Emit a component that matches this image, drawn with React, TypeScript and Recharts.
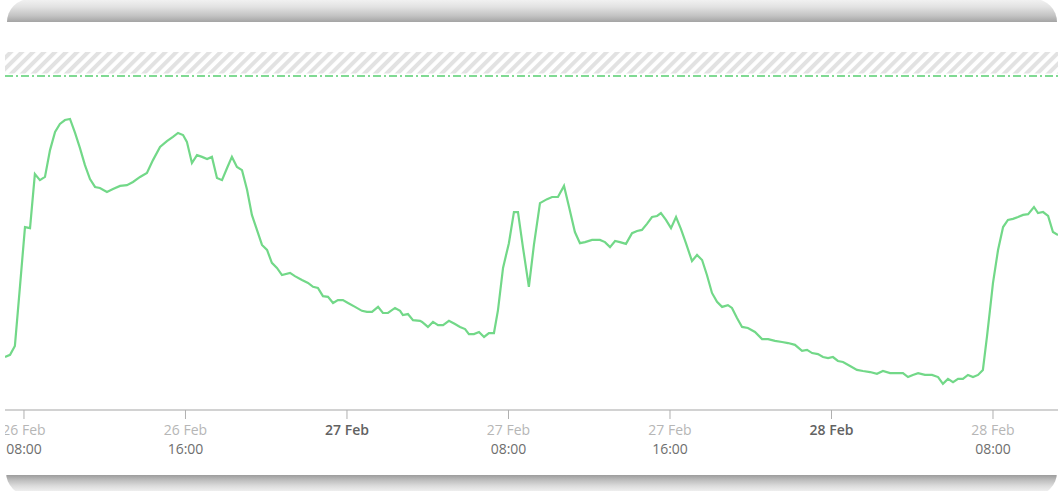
import React from 'react';
import { LineChart, Line, XAxis, YAxis, ReferenceArea, ReferenceLine } from 'recharts';

// hours since 26 Feb 00:00
const hours = [
  7.06, 7.31, 7.55, 7.80, 8.05, 8.30, 8.54, 8.79, 9.04, 9.29, 9.54, 9.78, 10.03, 10.28, 10.53, 10.77,
  11.02, 11.27, 11.52, 11.76, 12.11, 12.41, 12.76, 13.10, 13.40, 13.75, 14.09, 14.39, 14.74, 15.08,
  15.38, 15.63, 15.88, 16.07, 16.32, 16.57, 16.82, 17.07, 17.31, 17.56, 17.81, 18.06, 18.30, 18.55,
  18.80, 19.05, 19.29, 19.54, 19.79, 20.04, 20.28, 20.53, 20.78, 21.18, 21.42, 21.77, 22.07, 22.32,
  22.56, 22.81, 23.06, 23.31, 23.55, 23.80, 24.05, 24.40, 24.74, 24.99, 25.24, 25.54, 25.78, 26.03,
  26.38, 26.63, 26.77, 27.02, 27.27, 27.62, 27.72, 28.01, 28.26, 28.51, 28.76, 29.05, 29.35, 29.60,
  29.85, 30.04, 30.29, 30.54, 30.79, 31.03, 31.28, 31.48, 31.73, 32.02, 32.27, 32.47, 32.72, 33.01,
  33.26, 33.56, 33.91, 34.16, 34.45, 34.75, 35.00, 35.29, 35.54, 35.79, 36.14, 36.53, 36.78, 37.03,
  37.28, 37.52, 37.82, 38.12, 38.37, 38.61, 38.86, 39.11, 39.36, 39.55, 39.80, 40.05, 40.30, 40.54,
  40.79, 41.09, 41.34, 41.59, 41.83, 42.08, 42.33, 42.58, 42.87, 43.07, 43.32, 43.57, 43.86, 44.21,
  44.56, 44.86, 45.20, 45.55, 45.85, 46.19, 46.54, 46.79, 47.04, 47.33, 47.58, 47.83, 48.07, 48.32,
  48.57, 48.92, 49.26, 49.56, 49.91, 50.25, 50.55, 50.90, 51.24, 51.54, 51.79, 52.03, 52.29, 52.63,
  52.98, 53.28, 53.52, 53.77, 54.02, 54.27, 54.51, 54.76, 55.01, 55.26, 55.50, 55.70, 55.85, 56.00,
  56.25, 56.50, 56.74, 56.99, 57.24, 57.49, 57.74, 58.03, 58.23, 58.48, 58.73, 58.97, 59.22,
];

const values = [
  14.8, 15.4, 17.9, 34.4, 51.1, 50.8, 65.9, 64.2, 65.1, 72.6, 77.7, 79.9, 81.0, 81.3, 77.4, 73.2,
  68.4, 64.5, 62.3, 62.0, 60.9, 61.7, 62.6, 62.8, 63.7, 65.1, 66.2, 69.8, 73.5, 75.1,
  76.3, 77.4, 76.8, 74.9, 69.0, 71.2, 70.7, 70.1, 70.7, 64.8, 64.2, 67.6, 70.7, 67.9,
  67.0, 61.5, 54.5, 50.3, 46.1, 44.7, 41.1, 39.7, 37.7, 38.3, 37.4, 36.3, 35.5, 34.4,
  34.1, 31.8, 31.6, 29.9, 30.7, 30.7, 29.9, 28.8, 27.7, 27.4, 27.4, 28.8, 27.1, 27.1,
  28.5, 27.7, 26.5, 26.8, 25.1, 24.9, 24.6, 23.2, 24.6, 23.7, 23.7, 24.9, 24.0, 23.2,
  22.6, 21.2, 21.2, 21.8, 20.4, 21.5, 21.5, 27.9, 39.7, 46.6, 55.3, 55.3, 45.3, 34.4,
  46.1, 57.8, 58.9, 59.5, 59.5, 62.6, 56.7, 49.7, 46.6, 46.9, 47.5, 47.5, 46.9, 45.5,
  47.2, 46.9, 46.4, 49.4, 50.0, 50.3, 52.0, 53.9, 54.2, 55.0, 53.1, 50.8, 53.9, 50.6,
  46.6, 41.6, 43.3, 41.9, 37.7, 32.7, 30.2, 28.8, 29.3, 28.5, 25.7, 23.2, 22.9, 21.8,
  19.8, 19.8, 19.3, 19.0, 18.7, 18.2, 16.5, 16.8, 15.9, 15.6, 14.8, 14.5, 14.8, 13.7,
  13.4, 12.3, 11.2, 10.9, 10.6, 10.1, 10.9, 10.3, 10.3, 10.3, 9.2, 9.8, 10.3, 9.8,
  9.8, 9.2, 7.3, 8.7, 7.8, 8.7, 8.7, 9.8, 9.2, 9.8, 11.2, 20.4, 27.9, 35.5,
  44.7, 51.1, 53.1, 53.4, 53.9, 54.5, 54.7, 56.7, 55.0, 55.3, 54.2, 49.7, 48.9,
];

const tickHours = [8, 16, 24, 32, 40, 48, 56];
const tickDates = ['26 Feb', '26 Feb', '27 Feb', '27 Feb', '27 Feb', '28 Feb', '28 Feb'];
const tickTimes = ['08:00', '16:00', '', '08:00', '16:00', '', '08:00'];

const thresholdLow = 94;
const thresholdHigh = 100;
const dashedLevel = 93.3;

const data = hours.map((t, i) => ({ t, v: values[i] }));

const FONT = '"Open Sans", "Noto Sans", sans-serif';

const Tick = (props: any) => {
  const { x, y, payload } = props;
  const i = tickHours.indexOf(payload.value);
  const date = i >= 0 ? tickDates[i] : '';
  const time = i >= 0 ? tickTimes[i] : '';
  const midnight = time === '';
  return (
    <g>
      <text x={x} y={y} textAnchor="middle" fontFamily={FONT} fontSize={14}>
        <tspan
          x={x}
          dy={14}
          fill={midnight ? '#626262' : '#b6b6b6'}
          fontWeight={midnight ? 600 : 400}
        >
          {date}
        </tspan>
        {time ? (
          <tspan x={x} dy={19} fill="#6e6e6e">
            {time}
          </tspan>
        ) : null}
      </text>
    </g>
  );
};

export default function App() {
  return (
    <div
      style={{
        position: 'absolute',
        left: 0,
        top: 0,
        width: 1058,
        height: 491,
        background: '#fff',
        overflow: 'hidden',
      }}
    >
      <div
        style={{
          position: 'absolute',
          left: 7,
          top: -1,
          width: 1050,
          height: 60,
          borderRadius: 23,
          background: 'linear-gradient(to bottom, #f3f3f3 0px, #e2e2e2 8px, #c2c2c2 17px, #a4a4a4 23px)',
        }}
      />
      <div
        style={{
          position: 'absolute',
          left: 6,
          top: 440,
          width: 1051,
          height: 56,
          borderRadius: 24,
          background: 'linear-gradient(to bottom, #9c9c9c 35px, #bdbdbd 40px, #dcdcdc 46px, #f2f2f2 52px)',
        }}
      />
      <div
        style={{
          position: 'absolute',
          left: 0,
          top: 22,
          width: 1058,
          height: 453,
          background: '#fff',
        }}
      />
      <div style={{ position: 'absolute', left: 5, top: 22 }}>
        <LineChart width={1053} height={453} data={data} margin={{ top: 30, right: 0, left: 0, bottom: 0 }}>
          <defs>
            <pattern
              id="hatch"
              patternUnits="userSpaceOnUse"
              width={7.8}
              height={7.8}
              patternTransform="rotate(45)"
            >
              <rect x={0} y={0} width={7.8} height={7.8} fill="#ffffff" />
              <rect x={0} y={0} width={4} height={7.8} fill="#e2e2e2" />
            </pattern>
          </defs>
          <YAxis type="number" domain={[0, 100]} hide width={0} />
          <XAxis
            dataKey="t"
            type="number"
            domain={[7.06, 59.22]}
            ticks={tickHours}
            interval={0}
            height={65}
            allowDataOverflow
            axisLine={{ stroke: '#d2d2d2', strokeWidth: 2 }}
            tickLine={{ stroke: '#b0b0b0' }}
            tickSize={9}
            tick={<Tick />}
          />
          <ReferenceArea y1={thresholdLow} y2={thresholdHigh} fill="url(#hatch)" fillOpacity={1} stroke="none" />
          <ReferenceLine y={dashedLevel} stroke="#80da93" strokeWidth={1.8} strokeDasharray="8 3 2 3" />
          <Line
            type="linear"
            dataKey="v"
            stroke="#72d888"
            strokeWidth={2.2}
            dot={false}
            isAnimationActive={false}
          />
        </LineChart>
      </div>
    </div>
  );
}
